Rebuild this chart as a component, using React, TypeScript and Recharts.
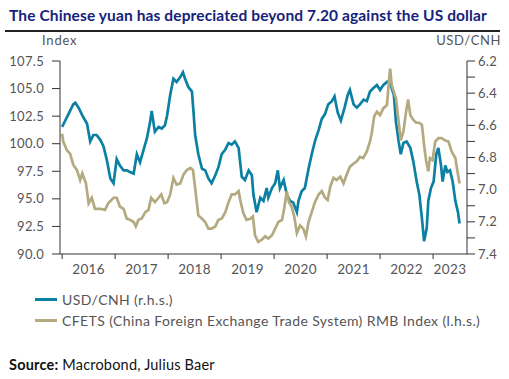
import { LineChart, Line, XAxis, YAxis } from 'recharts'

// USD/CNH (right axis, inverted) – decimal year / rate
const usdCnhDates = [
  2016.0, 2016.06, 2016.12, 2016.21, 2016.25, 2016.31, 2016.4, 2016.47, 2016.53, 2016.59, 2016.65, 2016.72,
  2016.78, 2016.84, 2016.91, 2016.97, 2017.03, 2017.09, 2017.16, 2017.22, 2017.28, 2017.35, 2017.41, 2017.47,
  2017.53, 2017.6, 2017.66, 2017.69, 2017.75, 2017.82, 2017.88, 2017.94, 2017.98, 2018.04, 2018.1, 2018.16,
  2018.23, 2018.28, 2018.32, 2018.38, 2018.45, 2018.48, 2018.51, 2018.57, 2018.64, 2018.7, 2018.76, 2018.82,
  2018.89, 2018.95, 2019.01, 2019.08, 2019.14, 2019.2, 2019.26, 2019.33, 2019.39, 2019.45, 2019.52, 2019.58,
  2019.61, 2019.67, 2019.74, 2019.8, 2019.86, 2019.89, 2019.96, 2020.02, 2020.07, 2020.11, 2020.18, 2020.24,
  2020.3, 2020.36, 2020.43, 2020.46, 2020.52, 2020.58, 2020.65, 2020.71, 2020.77, 2020.84, 2020.9, 2020.96,
  2021.02, 2021.09, 2021.14, 2021.2, 2021.26, 2021.33, 2021.39, 2021.43, 2021.5, 2021.56, 2021.62, 2021.69,
  2021.75, 2021.81, 2021.87, 2021.94, 2022.0, 2022.06, 2022.13, 2022.18, 2022.22, 2022.26, 2022.3, 2022.35,
  2022.39, 2022.44, 2022.5, 2022.57, 2022.63, 2022.69, 2022.74, 2022.79, 2022.83, 2022.88, 2022.91, 2022.96,
  2023.01, 2023.06, 2023.1, 2023.15, 2023.18, 2023.23, 2023.27, 2023.32, 2023.37, 2023.42, 2023.47, 2023.5,
]
const usdCnhValues = [
  6.61, 6.57, 6.53, 6.47, 6.46, 6.49, 6.55, 6.59, 6.7, 6.66, 6.66, 6.69,
  6.73, 6.81, 6.93, 6.96, 6.81, 6.85, 6.88, 6.88, 6.89, 6.9, 6.78, 6.83,
  6.76, 6.68, 6.58, 6.51, 6.64, 6.61, 6.62, 6.6, 6.54, 6.41, 6.31, 6.33,
  6.3, 6.27, 6.31, 6.36, 6.39, 6.52, 6.66, 6.78, 6.87, 6.88, 6.93, 6.96,
  6.91, 6.86, 6.78, 6.75, 6.71, 6.72, 6.7, 6.74, 6.92, 6.94, 6.88, 6.91,
  7.03, 7.14, 7.05, 7.07, 6.99, 7.05, 6.99, 6.96, 6.88, 6.99, 6.94, 7.03,
  7.07, 7.08, 7.14, 7.07, 7.01, 6.99, 6.87, 6.78, 6.7, 6.63, 6.56, 6.53,
  6.47, 6.45, 6.42, 6.52, 6.57, 6.49, 6.41, 6.38, 6.47, 6.49, 6.47, 6.44,
  6.45, 6.39, 6.37, 6.35, 6.38, 6.35, 6.33, 6.32, 6.37, 6.41, 6.58, 6.7,
  6.78, 6.71, 6.7, 6.74, 6.83, 6.95, 7.03, 7.18, 7.32, 7.24, 7.07, 6.99,
  6.95, 6.78, 6.74, 6.85, 6.95, 6.85, 6.89, 6.88, 6.95, 7.07, 7.14, 7.21,
]

// CFETS RMB index (left axis)
const cfetsDates = [
  2016.0, 2016.02, 2016.09, 2016.15, 2016.21, 2016.28, 2016.34, 2016.38, 2016.45, 2016.5, 2016.56, 2016.62,
  2016.72, 2016.81, 2016.87, 2016.97, 2017.03, 2017.09, 2017.16, 2017.22, 2017.28, 2017.35, 2017.39, 2017.44,
  2017.5, 2017.57, 2017.63, 2017.68, 2017.75, 2017.82, 2017.87, 2017.93, 2017.98, 2018.04, 2018.1, 2018.16,
  2018.23, 2018.29, 2018.35, 2018.42, 2018.47, 2018.51, 2018.57, 2018.64, 2018.7, 2018.76, 2018.82, 2018.89,
  2018.95, 2019.01, 2019.08, 2019.14, 2019.2, 2019.26, 2019.33, 2019.37, 2019.42, 2019.48, 2019.55, 2019.6,
  2019.64, 2019.7, 2019.77, 2019.83, 2019.89, 2019.96, 2020.02, 2020.08, 2020.15, 2020.19, 2020.24, 2020.28,
  2020.33, 2020.38, 2020.43, 2020.49, 2020.55, 2020.6, 2020.65, 2020.71, 2020.77, 2020.84, 2020.9, 2020.96,
  2021.01, 2021.06, 2021.12, 2021.18, 2021.25, 2021.31, 2021.37, 2021.43, 2021.5, 2021.56, 2021.62, 2021.68,
  2021.75, 2021.81, 2021.84, 2021.89, 2021.94, 2022.0, 2022.06, 2022.13, 2022.16, 2022.19, 2022.22, 2022.26,
  2022.3, 2022.35, 2022.39, 2022.44, 2022.49, 2022.53, 2022.57, 2022.62, 2022.68, 2022.74, 2022.79, 2022.83,
  2022.87, 2022.91, 2022.94, 2022.99, 2023.04, 2023.1, 2023.16, 2023.23, 2023.29, 2023.35, 2023.42, 2023.46,
  2023.5,
]
const cfetsValues = [
  100.9, 100.2, 99.4, 99.1, 98.1, 97.6, 96.7, 97.3, 96.4, 94.6, 95.1, 94.1,
  94.1, 94.0, 94.6, 95.1, 95.1, 94.3, 94.1, 93.2, 93.1, 92.9, 92.5, 93.1,
  93.2, 93.8, 94.0, 95.1, 94.7, 95.1, 95.4, 94.6, 94.7, 95.4, 96.9, 96.3,
  96.4, 97.2, 97.6, 97.8, 97.6, 96.0, 93.5, 93.2, 92.9, 92.3, 92.3, 92.5,
  93.1, 93.2, 93.8, 94.7, 95.4, 95.4, 95.7, 94.7, 93.7, 93.1, 93.2, 93.4,
  91.7, 91.1, 91.3, 91.6, 91.4, 91.7, 92.3, 92.9, 93.1, 94.1, 95.7, 94.7,
  94.3, 93.4, 91.9, 92.6, 92.3, 91.6, 92.9, 93.8, 94.7, 95.4, 95.7, 95.1,
  94.9, 96.1, 96.9, 96.7, 97.0, 96.4, 97.2, 97.9, 98.2, 98.4, 98.8, 98.7,
  99.3, 100.2, 100.9, 102.5, 102.9, 102.6, 103.2, 103.5, 105.3, 106.8, 105.3, 104.7,
  104.1, 102.0, 100.3, 101.1, 102.9, 104.0, 102.6, 102.2, 101.9, 101.9, 101.7, 99.9,
  98.4, 97.5, 98.7, 98.5, 100.2, 100.5, 100.5, 100.3, 100.2, 99.3, 98.7, 97.5,
  96.4,
]

const yearTicks = [2016, 2017, 2018, 2019, 2020, 2021, 2022, 2023]
const indexTicks = [90, 92.5, 95, 97.5, 100, 102.5, 105, 107.5]
const usdTicks = [6.2, 6.3, 6.4, 6.5, 6.6, 6.7, 6.8, 6.9, 7.0, 7.1, 7.2, 7.3, 7.4]

const usdCnhData = usdCnhDates.map((t, i) => ({ t, v: usdCnhValues[i] }))
const cfetsData = cfetsDates.map((t, i) => ({ t, v: cfetsValues[i] }))

const BLUE = '#0b80a3'
const TAN = '#b3aa80'
const FONT = 'Lato, "Open Sans", sans-serif'
const X_MIN = 2015.96
const X_MAX = 2023.64
const PLOT_LEFT = 60
const PLOT_RIGHT = 467

const YearTick = (props: any) => {
  const { x, y, payload } = props
  const pxPerYear = (PLOT_RIGHT - PLOT_LEFT) / (X_MAX - X_MIN)
  const end = Math.min(x + pxPerYear, PLOT_RIGHT)
  return (
    <text
      x={(x + end) / 2}
      y={y + 13}
      textAnchor="middle"
      fill="#555"
      fontSize={13.5}
      fontFamily={FONT}
      letterSpacing={0.4}
    >
      {payload.value}
    </text>
  )
}

export default function App() {
  return (
    <div style={{ position: 'absolute', left: 0, top: 0, width: 509, height: 379, background: '#fff', fontFamily: FONT }}>
      <div
        style={{
          position: 'absolute',
          left: 9,
          top: 6,
          fontSize: 15.5,
          fontWeight: 700,
          color: '#15237a',
          whiteSpace: 'nowrap',
          letterSpacing: 0.12,
        }}
      >
        The Chinese yuan has depreciated beyond 7.20 against the US dollar
      </div>
      <div style={{ position: 'absolute', left: 5, top: 30, width: 495, height: 1.5, background: '#222' }} />
      <div style={{ position: 'absolute', left: 42, top: 32, fontSize: 13, color: '#555', letterSpacing: 0.8 }}>Index</div>
      <div style={{ position: 'absolute', right: 8, top: 32, fontSize: 13, color: '#555', letterSpacing: 0.6 }}>USD/CNH</div>

      <div style={{ position: 'absolute', left: 0, top: 0 }}>
        <LineChart width={509} height={280} margin={{ top: 61, right: 2, bottom: 6, left: 5 }}>
          <XAxis
            xAxisId="x"
            dataKey="t"
            type="number"
            domain={[X_MIN, X_MAX]}
            ticks={yearTicks}
            tick={<YearTick />}
            tickSize={5}
            height={20}
            stroke="#333"
            allowDataOverflow
          />
          <YAxis
            yAxisId="left"
            domain={[90, 107.5]}
            ticks={indexTicks}
            tickFormatter={(v: number) => v.toFixed(1)}
            tickSize={8}
            tickMargin={8}
            width={55}
            stroke="#333"
            tick={{ fill: '#555', fontSize: 13, fontFamily: FONT, letterSpacing: 0.3 }}
          />
          <YAxis
            yAxisId="right"
            orientation="right"
            reversed
            domain={[6.2, 7.4]}
            ticks={usdTicks}
            tickFormatter={(v: number) => (Math.round(v * 10) % 2 === 0 ? v.toFixed(1) : '')}
            tickSize={8}
            tickMargin={3}
            width={40}
            stroke="#333"
            tick={{ fill: '#555', fontSize: 13, fontFamily: FONT, letterSpacing: 0.3 }}
          />
          <Line
            xAxisId="x"
            yAxisId="right"
            data={usdCnhData}
            dataKey="v"
            stroke={BLUE}
            strokeWidth={2.7}
            dot={false}
            type="linear"
            isAnimationActive={false}
          />
          <Line
            xAxisId="x"
            yAxisId="left"
            data={cfetsData}
            dataKey="v"
            stroke={TAN}
            strokeWidth={2.7}
            dot={false}
            type="linear"
            isAnimationActive={false}
          />
        </LineChart>
      </div>

      <div style={{ position: 'absolute', left: 35, top: 289, fontSize: 14, color: '#555', letterSpacing: 0.4 }}>
        <div style={{ display: 'flex', alignItems: 'center', height: 20 }}>
          <span style={{ display: 'inline-block', width: 22, height: 3, background: BLUE, marginRight: 5 }} />
          USD/CNH (r.h.s.)
        </div>
        <div style={{ display: 'flex', alignItems: 'center', height: 22 }}>
          <span style={{ display: 'inline-block', width: 22, height: 3, background: TAN, marginRight: 5 }} />
          CFETS (China Foreign Exchange Trade System) RMB Index (l.h.s.)
        </div>
      </div>

      <div style={{ position: 'absolute', left: 9, top: 356, fontSize: 14.5, color: '#111', letterSpacing: 0.2 }}>
        <b>Source:</b> Macrobond, Julius Baer
      </div>
    </div>
  )
}
